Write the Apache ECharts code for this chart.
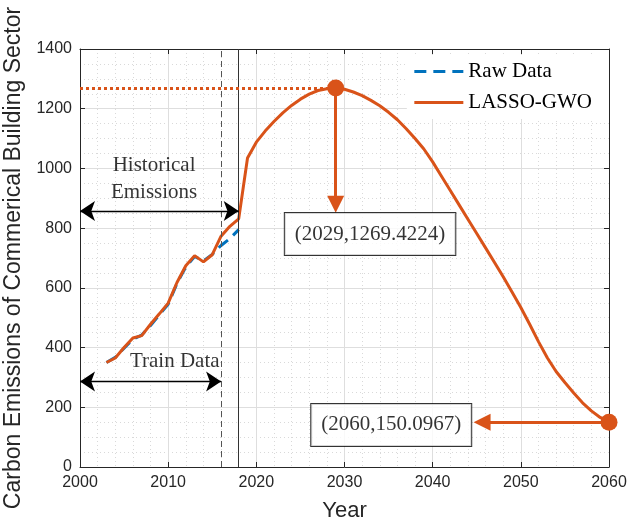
<!DOCTYPE html>
<html>
<head>
<meta charset="utf-8">
<script src="https://cdn.jsdelivr.net/npm/echarts@6/dist/echarts.min.js"></script>
<style>
html, body { margin: 0; padding: 0; background: #fff; }
#chart { width: 627px; height: 518px; }
</style>
</head>
<body>
<div id="chart"></div>
<script>
// historical years (raw data + fitted)
const histYears = [2003, 2004, 2005, 2006, 2007, 2008, 2009, 2010, 2011, 2012, 2013, 2014, 2015, 2016, 2017, 2018]
const rawData = [350, 367, 398, 428, 442, 474, 510, 545, 615, 670, 705, 690, 712, 742, 765, 795]
const fitHist = [350, 365, 400, 432, 440, 478, 513, 549, 618, 674, 708, 687, 711, 773, 806, 831]

// forecast years
const foreYears = [2019, 2020, 2021, 2022, 2023, 2024, 2025, 2026, 2027, 2028, 2029, 2030, 2031, 2032,
    2033, 2034, 2035, 2036, 2037, 2038, 2039, 2040, 2041, 2042, 2043, 2044, 2045, 2046, 2047, 2048,
    2049, 2050, 2051, 2052, 2053, 2054, 2055, 2056, 2057, 2058, 2059, 2060]
const foreVals = [1035, 1088, 1125, 1157, 1186, 1211, 1232, 1249, 1261, 1267, 1269.4224, 1265, 1256, 1244,
    1228, 1210, 1188, 1163, 1133, 1100, 1065, 1022, 974, 926, 878, 830, 782, 734, 686, 637,
    586, 534, 478, 420, 366, 320, 283, 248, 215, 188, 166, 150.0967]

// highlighted points
const peakPt = [2029, 1269.4224]
const endPt = [2060, 150.0967]

// annotation anchors (data coords)
const trainEnd = 2016
const histEnd = 2018
const histArrowY = 857
const trainArrowY = 286
const peakArrowEnd = 880
const endArrowEnd = 2045.6

const ORANGE = '#D95319'
const BLUE = '#0072BD'
const AXIS = '#262626'

const pair = (xs, ys) => xs.map((x, i) => [x, ys[i]])

let myChart = echarts.init(document.getElementById('chart'))

const serif = 'Liberation Serif'
const sans = 'Liberation Sans'

let option = {
    animation: false,
    grid: { left: 80, right: 18, top: 49, bottom: 51, containLabel: false, outerBoundsMode: 'none' },
    legend: {
        data: ['Raw Data', 'LASSO-GWO'],
        orient: 'vertical',
        right: 18,
        top: 55,
        backgroundColor: '#fff',
        padding: [6, 17, 6, 6],
        itemWidth: 49,
        itemHeight: 14,
        itemGap: 10,
        itemStyle: { opacity: 0 },
        lineStyle: { width: 3 },
        textStyle: { fontFamily: serif, fontSize: 21, color: '#000' }
    },
    xAxis: [
        {
            type: 'value', min: 2000, max: 2060, interval: 10,
            name: 'Year', nameLocation: 'middle', nameGap: 33,
            nameTextStyle: { fontFamily: sans, fontSize: 22, color: AXIS },
            axisLine: { show: true, onZero: false, lineStyle: { color: AXIS } },
            axisTick: { show: true, inside: true, length: 5, lineStyle: { color: AXIS } },
            axisLabel: { fontFamily: sans, fontSize: 16, color: AXIS, margin: 8, formatter: v => String(v) },
            splitLine: { show: true, lineStyle: { color: '#dedede' } },
            minorTick: { show: false, splitNumber: 5 },
            minorSplitLine: { show: true, lineStyle: { color: '#d9d9d9', type: [1, 3] } }
        },
        {
            type: 'value', min: 2000, max: 2060, interval: 10, position: 'top',
            axisLine: { show: true, onZero: false, lineStyle: { color: AXIS } },
            axisTick: { show: true, inside: true, length: 5, lineStyle: { color: AXIS } },
            axisLabel: { show: false },
            splitLine: { show: false }
        }
    ],
    yAxis: [
        {
            type: 'value', min: 0, max: 1400, interval: 200,
            name: 'Carbon Emissions of Commerical Building Sector',
            nameLocation: 'middle', nameGap: 44,
            nameTextStyle: { fontFamily: sans, fontSize: 23, color: AXIS },
            axisLine: { show: true, onZero: false, lineStyle: { color: AXIS } },
            axisTick: { show: true, inside: true, length: 5, lineStyle: { color: AXIS } },
            axisLabel: { fontFamily: sans, fontSize: 16, color: AXIS, margin: 8, formatter: v => String(v) },
            splitLine: { show: true, lineStyle: { color: '#dedede' } },
            minorTick: { show: false, splitNumber: 4 },
            minorSplitLine: { show: true, lineStyle: { color: '#d9d9d9', type: [1, 3] } }
        },
        {
            type: 'value', min: 0, max: 1400, interval: 200, position: 'right',
            axisLine: { show: true, onZero: false, lineStyle: { color: AXIS } },
            axisTick: { show: true, inside: true, length: 5, lineStyle: { color: AXIS } },
            axisLabel: { show: false },
            splitLine: { show: false }
        }
    ],
    series: [
        {
            // split lines for train / history boundary
            name: 'bounds', type: 'line', data: [], z: 1,
            markLine: {
                silent: true, symbol: ['none', 'none'], label: { show: false },
                data: [
                    { xAxis: trainEnd, lineStyle: { color: '#555', width: 1, type: [6, 4] } },
                    { xAxis: histEnd, lineStyle: { color: '#333', width: 1, type: 'solid' } }
                ]
            }
        },
        {
            name: 'Raw Data', type: 'line', z: 3,
            data: pair(histYears, rawData),
            symbol: 'none', showSymbol: false,
            lineStyle: { color: BLUE, width: 3, type: [12, 7] },
            itemStyle: { color: BLUE }
        },
        {
            name: 'LASSO-GWO', type: 'line', z: 4,
            data: pair(histYears, fitHist).concat(pair(foreYears, foreVals)),
            symbol: 'none', showSymbol: false,
            lineStyle: { color: ORANGE, width: 3 },
            itemStyle: { color: ORANGE }
        },
        {
            // dotted peak line
            name: 'peakLine', type: 'line', data: [], z: 4,
            markLine: {
                silent: true, symbol: ['none', 'none'], label: { show: false },
                lineStyle: { color: ORANGE, width: 3, type: [3, 3] },
                data: [[{ coord: [2000, peakPt[1]] }, { coord: peakPt }]]
            }
        },
        {
            // black double arrows
            name: 'spans', type: 'line', data: [], z: 5,
            markLine: {
                silent: true, symbol: ['arrow', 'arrow'], symbolSize: 15,
                label: { show: false },
                lineStyle: { color: '#000', width: 1.3, type: 'solid' },
                itemStyle: { color: '#000' },
                data: [
                    [{ coord: [2000, histArrowY] }, { coord: [histEnd, histArrowY] }],
                    [{ coord: [2000, trainArrowY] }, { coord: [trainEnd, trainArrowY] }]
                ]
            }
        },
        {
            // orange pointer arrows
            name: 'pointers', type: 'line', data: [], z: 5,
            markLine: {
                silent: true, symbol: ['none', 'triangle'], symbolSize: 17,
                label: { show: false },
                lineStyle: { color: ORANGE, width: 3, type: 'solid' },
                itemStyle: { color: ORANGE },
                data: [
                    [{ coord: peakPt }, { coord: [peakPt[0], peakArrowEnd] }],
                    [{ coord: endPt }, { coord: [endArrowEnd, endPt[1]] }]
                ]
            }
        },
        {
            name: 'points', type: 'scatter', z: 6, clip: false,
            data: [peakPt, endPt],
            symbolSize: 17,
            itemStyle: { color: ORANGE, opacity: 1 }
        },
        {
            name: 'notes', type: 'scatter', z: 7, clip: false,
            symbolSize: 0,
            label: {
                show: true, position: 'inside', color: '#000',
                fontFamily: serif, fontSize: 21, lineHeight: 27,
                formatter: p => p.name
            },
            data: [
                { name: 'Historical\nEmissions', value: [2008.4, 966] },
                { name: 'Train Data', value: [2010.75, 353] },
                {
                    name: '(' + peakPt[0] + ',' + peakPt[1].toFixed(4) + ')', value: [2032.9, 780],
                    label: { backgroundColor: '#fff', borderColor: '#000', borderWidth: 1, padding: [8, 10, 7, 10] }
                },
                {
                    name: '(' + endPt[0] + ',' + endPt[1].toFixed(4) + ')', value: [2035.3, 141],
                    label: { backgroundColor: '#fff', borderColor: '#000', borderWidth: 1, padding: [8, 10, 7, 10] }
                }
            ]
        }
    ]
}

myChart.setOption(option)
</script>
</body>
</html>
